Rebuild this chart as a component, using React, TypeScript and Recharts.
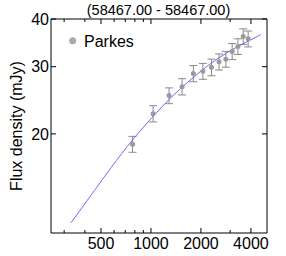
import {
  ComposedChart,
  Line,
  Scatter,
  ErrorBar,
  XAxis,
  YAxis,
  Customized,
} from 'recharts';

// observed flux densities (Parkes)
const freqs = [775, 1030, 1285, 1540, 1800, 2055, 2315, 2570, 2825, 3085, 3340, 3595, 3850];
const fluxes = [18.8, 22.6, 25.2, 26.6, 28.8, 29.2, 29.9, 30.9, 31.4, 32.9, 33.9, 36.0, 35.5];
const fluxErrs = [0.9, 1.1, 1.2, 1.3, 1.4, 1.4, 1.5, 1.5, 1.5, 1.6, 1.6, 1.7, 1.7];

// fitted model curve
const fitFreqs = [330, 456, 574, 776, 1047, 1320, 1663, 2000, 2297, 3031, 4000, 4595];
const fitFluxes = [11.7, 14.2, 16.3, 19.3, 22.4, 24.9, 27.3, 29.2, 30.6, 33.1, 35.3, 36.4];

const xDomain = [250, 5000];
const yDomain = [11, 40];
const xTicks = [300, 400, 500, 600, 700, 800, 900, 1000, 2000, 3000, 4000];
const xMajor = [500, 1000, 2000, 4000];
const yTicks = [20, 30, 40];

const title = '(58467.00 - 58467.00)';
const yLabel = 'Flux density (mJy)';
const legendName = 'Parkes';

const obsData = freqs.map((f, i) => ({ f, s: fluxes[i], e: fluxErrs[i] }));
const fitData = fitFreqs.map((f, i) => ({ f, s: fitFluxes[i] }));

const FONT = '"Liberation Sans", Arial, sans-serif';

// plot box geometry (follows from the chart margins and axis sizes below)
const W = 286;
const H = 256;
const M = { top: 19, right: 19, bottom: 0, left: 0 };
const X_AXIS_H = 23;
const Y_AXIS_W = 51;
const PLOT_L = M.left + Y_AXIS_W;
const PLOT_R = W - M.right;
const PLOT_T = M.top;
const PLOT_B = H - M.bottom - X_AXIS_H;

// bottom tick + label, plus the mirrored tick on the top edge
const BottomTick = ({ x, y, payload }: any) => {
  const len = xMajor.includes(payload.value) ? 5 : 3;
  return (
    <g>
      <line x1={x} x2={x} y1={y} y2={y - len} stroke="#000" />
      <line x1={x} x2={x} y1={PLOT_T} y2={PLOT_T + len} stroke="#000" />
      {xMajor.includes(payload.value) && (
        <text x={x} y={y + 16} textAnchor="middle" fontSize={16} fill="#000" fontFamily={FONT}>
          {payload.value}
        </text>
      )}
    </g>
  );
};

// left tick + label, plus the mirrored tick on the right edge
const LeftTick = ({ x, y, payload }: any) => (
  <g>
    <line x1={x} x2={x + 5} y1={y} y2={y} stroke="#000" />
    <line x1={PLOT_R} x2={PLOT_R - 5} y1={y} y2={y} stroke="#000" />
    <text x={x - 2} y={y} dy="0.36em" textAnchor="end" fontSize={16} fill="#000" fontFamily={FONT}>
      {payload.value}
    </text>
  </g>
);

const Extras = () => (
  <g fontFamily={FONT} fill="#000">
    <line x1={PLOT_L} x2={PLOT_R} y1={PLOT_T} y2={PLOT_T} stroke="#000" />
    <line x1={PLOT_R} x2={PLOT_R} y1={PLOT_T} y2={PLOT_B} stroke="#000" />
    <text x={158.5} y={15} textAnchor="middle" fontSize={14.5}>
      {title}
    </text>
    <text x={22} y={126} textAnchor="middle" fontSize={16} transform="rotate(-90 22 126)">
      {yLabel}
    </text>
    <circle cx={72.7} cy={40.7} r={3.5} fill="#aaa" />
    <text x={84} y={46.7} fontSize={16}>
      {legendName}
    </text>
  </g>
);

export default function App() {
  return (
    <div style={{ position: 'absolute', left: 0, top: 0, width: W, height: H, background: '#fff' }}>
      <ComposedChart width={W} height={H} margin={M}>
        <XAxis
          dataKey="f"
          type="number"
          scale="log"
          domain={xDomain}
          allowDataOverflow
          ticks={xTicks}
          interval={0}
          tick={<BottomTick />}
          tickLine={false}
          tickSize={0}
          tickMargin={0}
          axisLine={{ stroke: '#000' }}
          height={X_AXIS_H}
        />
        <YAxis
          type="number"
          scale="log"
          domain={yDomain}
          allowDataOverflow
          ticks={yTicks}
          interval={0}
          tick={<LeftTick />}
          tickLine={false}
          tickSize={0}
          tickMargin={0}
          axisLine={{ stroke: '#000' }}
          width={Y_AXIS_W}
        />
        <Scatter
          data={obsData}
          dataKey="s"
          isAnimationActive={false}
          shape={(p: any) => <circle cx={p.cx} cy={p.cy} r={2.5} fill="#9a9a9a" />}
        >
          <ErrorBar dataKey="e" direction="y" width={4} stroke="#8a8a8a" strokeWidth={1} />
        </Scatter>
        <Line
          data={fitData}
          dataKey="s"
          type="monotone"
          stroke="#6a6aff"
          strokeWidth={1}
          dot={false}
          activeDot={false}
          isAnimationActive={false}
        />
        <Customized component={Extras} />
      </ComposedChart>
    </div>
  );
}
